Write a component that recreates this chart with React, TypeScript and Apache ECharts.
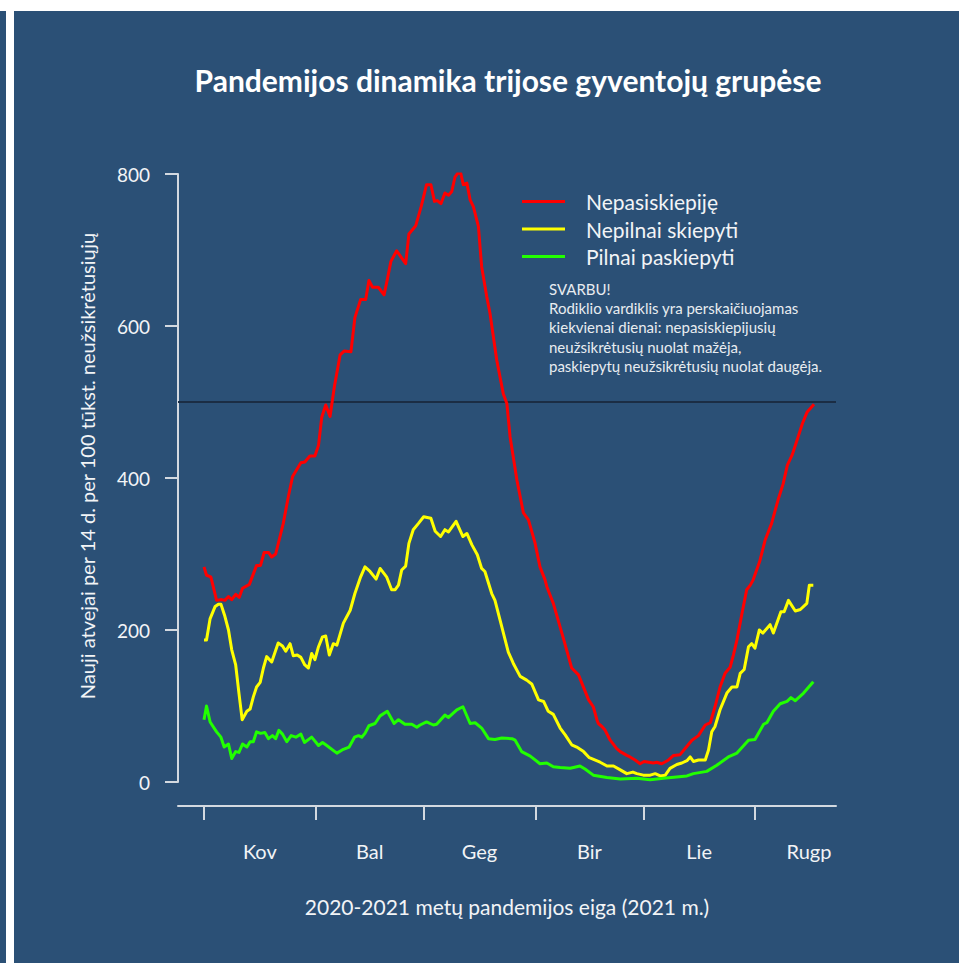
import React, { useEffect, useRef } from 'react';
import * as echarts from 'echarts';

const FONT = "Lato, 'Open Sans', 'DejaVu Sans', sans-serif";
const PANEL = '#2b5076';
const AXIS = '#d3d9e0';
const TEXT = '#f2f4f6';

const titleText = 'Pandemijos dinamika trijose gyventojų grupėse';
const xAxisName = '2020-2021 metų pandemijos eiga (2021 m.)';
const yAxisName = 'Nauji atvejai per 14 d. per 100 tūkst. neužsikrėtusiųjų';
const noteLines = [
  'SVARBU!',
  'Rodiklio vardiklis yra perskaičiuojamas',
  'kiekvienai dienai: nepasiskiepijusių',
  'neužsikrėtusių nuolat mažėja,',
  'paskiepytų neužsikrėtusių nuolat daugėja.',
];

// days counted from 1 March 2021
const monthTicks = [0, 31, 61, 92, 122, 153];
const monthLabelPos = [15.5, 46, 76.5, 107, 137.5, 168];
const monthLabels = ['Kov', 'Bal', 'Geg', 'Bir', 'Lie', 'Rugp'];

const seriesNames = ['Nepasiskiepiję', 'Nepilnai skiepyti', 'Pilnai paskiepyti'];
const seriesColors = ['#ff0000', '#ffff00', '#22ff00'];
const thresholdValue = 500;

const unvaccinated: [number, number][] = [
  [0, 283], [0.7, 272], [1.9, 270], [3.5, 239], [4.9, 240], [5.8, 239], [6.8, 244], [7.7, 240],
  [8.8, 247], [9.8, 243], [10.7, 255], [12.6, 260], [14.6, 285], [15.7, 285], [16.7, 302],
  [17.9, 302], [18.8, 296], [19.9, 300], [22, 340], [23.4, 375], [24.6, 402], [26.9, 420],
  [28, 421], [29.4, 429], [30.8, 429], [31.8, 443], [32.7, 480], [33.8, 496], [35, 481],
  [36.2, 520], [37.8, 562], [38.9, 567], [40.8, 566], [41.9, 611], [43.5, 635], [44.9, 635],
  [45.8, 660], [46.8, 651], [48.4, 651], [50, 641], [50.9, 661], [51.9, 685], [53.5, 699],
  [56, 682], [56.9, 721], [58.8, 732], [60.3, 757], [61.8, 786], [63, 786], [64, 764],
  [64.8, 765], [65.8, 761], [66.9, 775], [67.9, 772], [68.8, 777], [69.7, 796], [70.6, 802],
  [71.3, 801], [72, 786], [73, 788], [73.9, 766], [74.8, 757], [76.2, 731], [77.1, 678],
  [78.5, 639], [79.4, 617], [81.3, 555], [83.1, 511], [84.1, 498], [85, 454], [86.9, 397],
  [88.7, 354], [90.1, 345], [91.9, 315], [93.3, 283], [94.7, 266], [95.2, 257], [97, 235],
  [99.8, 189], [102.1, 150], [104, 141], [106.8, 108], [108.1, 99], [109.1, 82], [109.5, 77],
  [110.5, 73], [111.4, 68], [112.8, 55], [114.6, 44], [115.6, 40], [117.4, 35], [118.3, 33],
  [119.7, 29], [121.1, 24], [122.2, 27], [124.8, 25], [125.7, 26], [127.1, 24], [129, 29],
  [130.4, 35], [132.2, 36], [133.6, 44], [135.5, 55], [137.3, 61], [139.2, 75], [140.6, 78],
  [141.9, 99], [143.3, 125], [144.7, 143], [146.1, 151], [147, 167], [148, 187], [149.4, 222],
  [150.7, 253], [151.7, 259], [152.5, 266], [154.3, 290], [155.8, 318], [157.6, 340],
  [159.4, 371], [160.8, 392], [162, 417], [163.3, 430], [164.7, 450], [166.2, 472],
  [167.5, 487], [169.4, 497],
];

const partlyVaccinated: [number, number][] = [
  [0, 187], [0.7, 187], [1.7, 215], [3.1, 231], [4, 234], [4.7, 234], [5.8, 218], [6.8, 200],
  [7.7, 174], [8.8, 154], [9.7, 117], [10.6, 82], [11.9, 93], [12.8, 96], [13.7, 112],
  [14.6, 125], [15.6, 131], [16.5, 150], [17.4, 165], [18.8, 158], [20.6, 183], [21.8, 179],
  [22.7, 172], [23.9, 182], [24.8, 166], [25.9, 167], [26.9, 164], [28, 154], [29, 150],
  [29.9, 169], [30.8, 161], [31.8, 178], [32.9, 191], [33.8, 192], [34.8, 167], [35.9, 182],
  [36.9, 180], [38.7, 209], [40.6, 226], [41.9, 248], [43.5, 270], [44.7, 283], [46.1, 277],
  [47.8, 267], [48.9, 281], [50.7, 270], [52.1, 253], [53.1, 253], [54, 259], [54.9, 279],
  [56, 284], [56.9, 314], [58.1, 332], [59.5, 340], [61, 349], [63, 347], [64.2, 330],
  [65.7, 323], [66.9, 332], [67.9, 329], [70, 343], [71.9, 323], [73, 327], [74.4, 312],
  [75.9, 299], [77.1, 281], [78, 277], [79.9, 248], [80.8, 239], [82.7, 204], [84.5, 171],
  [85.9, 156], [87.8, 139], [89.6, 134], [91, 129], [92.9, 108], [94.3, 106], [95.6, 93],
  [97, 89], [98.9, 71], [100.3, 62], [102.1, 49], [103.5, 46], [105.4, 40], [107, 32],
  [110, 26], [111.9, 21], [113.7, 21], [115.6, 16], [117.4, 11], [119.1, 13], [120.2, 11],
  [122, 9], [123.9, 9], [125.3, 11], [126.7, 8], [128.1, 9], [129.4, 18], [131.3, 23],
  [132.7, 25], [134.1, 28], [135, 33], [135.9, 27], [137.3, 29], [139.2, 29], [140.1, 42],
  [141, 66], [141.9, 73], [143.3, 95], [145.2, 117], [146.6, 125], [148, 125], [148.9, 143],
  [150, 148], [151.2, 178], [152.1, 182], [153, 176], [154.2, 200], [155.2, 196], [157.2, 207],
  [158.1, 196], [160.2, 224], [161.1, 224], [162.3, 239], [164.2, 225], [165.6, 227],
  [167.4, 235], [168.1, 259], [169.2, 259],
];

const fullyVaccinated: [number, number][] = [
  [0, 82], [0.7, 100], [1.7, 79], [3.5, 66], [4.7, 59], [5.6, 46], [6.8, 50], [7.7, 31],
  [8.8, 40], [9.7, 39], [10.7, 50], [11.9, 46], [12.8, 53], [13.7, 53], [14.6, 66], [15.7, 64],
  [16.9, 65], [17.9, 57], [19, 61], [19.9, 57], [20.8, 68], [21.8, 63], [23, 53], [24.2, 61],
  [25.5, 59], [26.9, 63], [27.9, 52], [29.9, 59], [31.8, 48], [32.9, 52], [33.8, 49],
  [36.9, 38], [38.7, 43], [40.3, 46], [41.8, 59], [42.9, 61], [43.8, 59], [44.7, 64],
  [45.8, 74], [47.5, 77], [48.9, 87], [50.9, 93], [52.8, 77], [54, 82], [55.8, 76], [57.7, 76],
  [59.1, 72], [60, 75], [61.8, 79], [63.7, 75], [64.6, 76], [66.9, 88], [67.9, 85], [70.2, 95],
  [71.9, 99], [73.9, 77], [75.3, 78], [77.1, 71], [79, 57], [80.8, 56], [82.7, 58], [85.5, 57],
  [86.4, 55], [88.2, 40], [90.6, 34], [93.3, 24], [95.2, 25], [97, 20], [98.9, 19], [101.7, 18],
  [104.4, 21], [105.8, 17], [108.1, 9], [111.9, 6], [115.6, 4], [120.2, 5], [123.9, 3],
  [127.6, 5], [134.1, 8], [135.9, 11], [139.6, 14], [142.4, 22], [145.6, 33], [148, 38],
  [151.2, 55], [153, 56], [155.4, 76], [156.3, 78], [158.1, 93], [160, 103], [161.9, 106],
  [163, 111], [164.2, 107], [166.5, 117], [169.2, 132],
];

const seriesData = [unvaccinated, partlyVaccinated, fullyVaccinated];

export default function App() {
  const ref = useRef<HTMLDivElement>(null);

  useEffect(() => {
    if (!ref.current) return;
    const chart = echarts.init(ref.current, undefined, { renderer: 'svg' });

    const series: any[] = seriesNames.map((name, i) => ({
      name,
      type: 'line',
      data: seriesData[i],
      showSymbol: false,
      symbol: 'none',
      color: seriesColors[i],
      lineStyle: { color: seriesColors[i], width: 3, join: 'round' },
      emphasis: { disabled: true },
      z: 3,
    }));
    series[0].markLine = {
      silent: true,
      symbol: 'none',
      z: 1,
      label: { show: false },
      lineStyle: { color: '#1b2d44', width: 2, type: 'solid' },
      data: [{ yAxis: thresholdValue }],
    };

    chart.setOption({
      animation: false,
      backgroundColor: '#ffffff',
      textStyle: { fontFamily: FONT },
      graphic: [
        { type: 'rect', z: 0, shape: { x: 0, y: 11, width: 6, height: 952 }, style: { fill: PANEL } },
        { type: 'rect', z: 0, shape: { x: 14, y: 11, width: 945, height: 952 }, style: { fill: PANEL } },
        {
          type: 'text', z: 10, x: 508, y: 80,
          style: {
            text: titleText, fill: '#ffffff', fontFamily: FONT, fontWeight: 'bold', fontSize: 30,
            align: 'center', verticalAlign: 'middle',
          },
        },
        {
          type: 'text', z: 10, x: 87, y: 466, rotation: Math.PI / 2,
          style: {
            text: yAxisName, fill: TEXT, fontFamily: FONT, fontSize: 20,
            align: 'center', verticalAlign: 'middle',
          },
        },
        {
          type: 'text', z: 10, x: 549, y: 279,
          style: {
            text: noteLines.join('\n'), fill: '#e8ecf0', fontFamily: FONT, fontSize: 15,
            lineHeight: 19.3, align: 'left', verticalAlign: 'top',
          },
        },
      ],
      legend: {
        data: seriesNames,
        orient: 'vertical',
        left: 522,
        top: 191,
        padding: 0,
        icon: 'rect',
        itemWidth: 43,
        itemHeight: 3,
        itemGap: 6.5,
        selectedMode: false,
        textStyle: { color: TEXT, fontSize: 21, lineHeight: 21, fontFamily: FONT, padding: [0, 0, 0, 16] },
      },
      grid: { left: 178, right: 123, top: 174, bottom: 181 },
      xAxis: {
        type: 'value',
        min: -7.22,
        max: 175.5,
        offset: 24,
        axisLine: { show: true, onZero: false, lineStyle: { color: AXIS, width: 2 } },
        axisTick: { show: true, length: 14, customValues: monthTicks, lineStyle: { color: AXIS, width: 2 } },
        axisLabel: {
          customValues: monthLabelPos,
          formatter: (v: number) => {
            const idx = monthLabelPos.findIndex((p) => Math.abs(p - v) < 0.01);
            return idx >= 0 ? monthLabels[idx] : '';
          },
          color: TEXT,
          fontSize: 20,
          margin: 35,
        },
        splitLine: { show: false },
        name: xAxisName,
        nameLocation: 'middle',
        nameGap: 90,
        nameTextStyle: { color: TEXT, fontSize: 21 },
      },
      yAxis: {
        type: 'value',
        min: 0,
        max: 800,
        interval: 200,
        axisLine: { show: true, onZero: false, lineStyle: { color: AXIS, width: 2 } },
        axisTick: { show: true, length: 13, lineStyle: { color: AXIS, width: 2 } },
        axisLabel: { color: TEXT, fontSize: 19, margin: 28 },
        splitLine: { show: false },
      },
      series,
    });

    return () => chart.dispose();
  }, []);

  return (
    <div style={{ position: 'absolute', left: 0, top: 0, width: 959, height: 963 }}>
      <div ref={ref} style={{ width: 959, height: 963 }} />
    </div>
  );
}
